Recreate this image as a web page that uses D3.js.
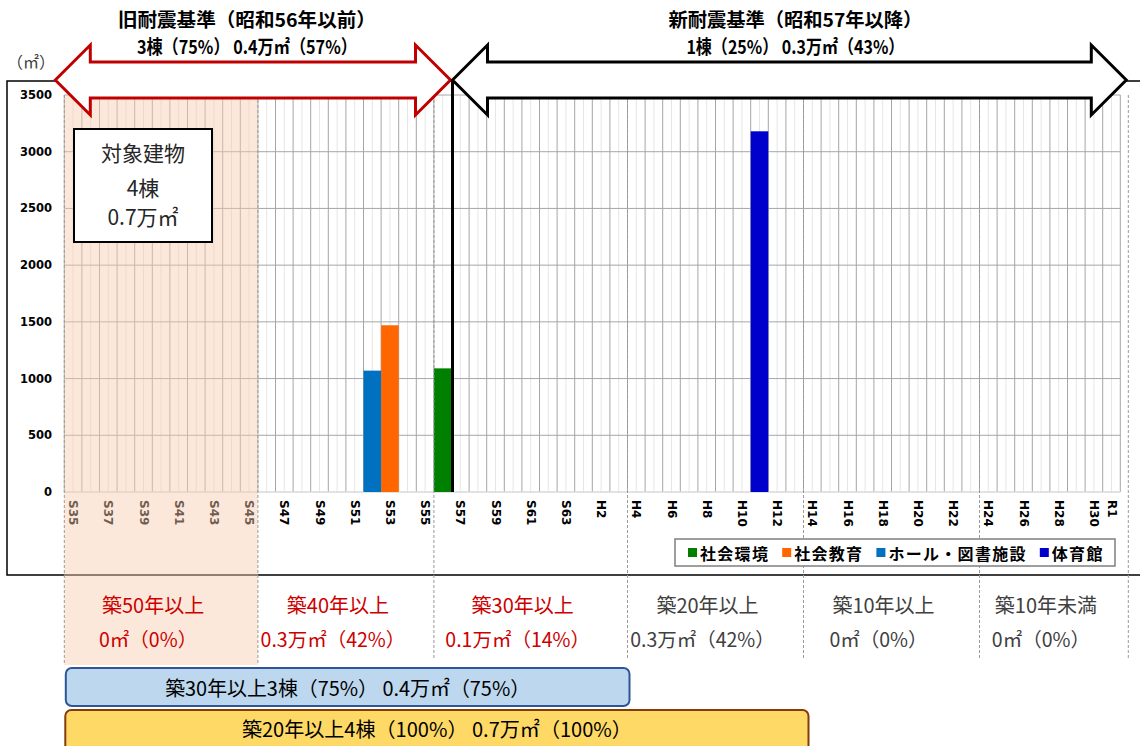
<!DOCTYPE html>
<html>
<head>
<meta charset="utf-8">
<script src="https://cdn.jsdelivr.net/npm/d3@7"></script>
<style>
  body { margin: 0; background: #fff; }
  svg { display: block; font-family: "Noto Sans CJK JP", "Noto Sans", sans-serif; }
</style>
</head>
<body>
<div id="chart"></div>
<script>
// construction year categories (Showa / Heisei / Reiwa)
const categories = [
  'S35', 'S36', 'S37', 'S38', 'S39', 'S40', 'S41', 'S42', 'S43', 'S44', 'S45',
  'S46', 'S47', 'S48', 'S49', 'S50', 'S51', 'S52', 'S53', 'S54', 'S55', 'S56',
  'S57', 'S58', 'S59', 'S60', 'S61', 'S62', 'S63',
  'H1', 'H2', 'H3', 'H4', 'H5', 'H6', 'H7', 'H8', 'H9', 'H10', 'H11', 'H12',
  'H13', 'H14', 'H15', 'H16', 'H17', 'H18', 'H19', 'H20', 'H21', 'H22',
  'H23', 'H24', 'H25', 'H26', 'H27', 'H28', 'H29', 'H30', 'R1'
];
const tickLabels = [
  'S35', 'S37', 'S39', 'S41', 'S43', 'S45', 'S47', 'S49', 'S51', 'S53', 'S55',
  'S57', 'S59', 'S61', 'S63', 'H2', 'H4', 'H6', 'H8', 'H10', 'H12', 'H14',
  'H16', 'H18', 'H20', 'H22', 'H24', 'H26', 'H28', 'H30', 'R1'
];
const yTicks = [0, 500, 1000, 1500, 2000, 2500, 3000, 3500];

const seriesNames = ['社会環境', '社会教育', 'ホール・図書施設', '体育館'];
const seriesColors = ['#008000', '#ff6600', '#0070c0', '#0000cc'];
// one building per series: year built and floor area (m2)
const seriesCats = ['S56', 'S53', 'S52', 'H11'];
const seriesValues = [1090, 1470, 1070, 3180];

const ageStart = ['S35', 'S46', 'S56', 'H4', 'H14', 'H24'];
const ageTitles = ['築50年以上', '築40年以上', '築30年以上', '築20年以上', '築10年以上', '築10年未満'];
const ageAreas = ['0㎡（0%）', '0.3万㎡（42%）', '0.1万㎡（14%）', '0.3万㎡（42%）', '0㎡（0%）', '0㎡（0%）'];
const ageHighlight = [true, true, true, false, false, false];

const oldTitle = ['旧耐震基準（昭和56年以前）', '3棟（75%） 0.4万㎡（57%）'];
const newTitle = ['新耐震基準（昭和57年以降）', '1棟（25%） 0.3万㎡（43%）'];
const totalBox = ['対象建物', '4棟', '0.7万㎡'];
const summary30 = '築30年以上3棟（75%） 0.4万㎡（75%）';
const summary20 = '築20年以上4棟（100%） 0.7万㎡（100%）';

const width = 1140;
const height = 746;

const svg = d3.select('#chart').append('svg')
  .attr('width', width)
  .attr('height', height);

const x = d3.scaleBand().domain(categories).range([64.3, 1120.3]).padding(0);
const y = d3.scaleLinear().domain([0, 3500]).range([492, 95]);
const x0 = x.range()[0];
const x1 = x.range()[1];
const bw = x.bandwidth();

// outer frame
svg.append('rect')
  .attr('x', 7).attr('y', 81)
  .attr('width', 1150).attr('height', 494)
  .attr('fill', 'none').attr('stroke', '#000').attr('stroke-width', 1.5);

svg.append('text')
  .attr('x', 31).attr('y', 61)
  .attr('text-anchor', 'middle').attr('dominant-baseline', 'central')
  .attr('font-size', 16).attr('fill', '#404040')
  .text('（㎡）');

// grid
const grid = svg.append('g');
grid.selectAll('line.mid')
  .data(categories)
  .enter().append('line')
  .attr('x1', d => x(d) + bw / 2).attr('x2', d => x(d) + bw / 2)
  .attr('y1', y(3500)).attr('y2', y(0))
  .attr('stroke', '#e6e6e6').attr('stroke-width', 1);
grid.selectAll('line.cat')
  .data(categories.concat(['end']))
  .enter().append('line')
  .attr('x1', (d, i) => x0 + i * bw).attr('x2', (d, i) => x0 + i * bw)
  .attr('y1', y(3500)).attr('y2', y(0))
  .attr('stroke', '#a6a6a6').attr('stroke-width', 1);
grid.selectAll('line.h')
  .data(yTicks.slice(1))
  .enter().append('line')
  .attr('x1', x0).attr('x2', x1)
  .attr('y1', d => y(d)).attr('y2', d => y(d))
  .attr('stroke', '#a6a6a6').attr('stroke-width', 1);
grid.append('line')
  .attr('x1', x0).attr('x2', x1)
  .attr('y1', y(0)).attr('y2', y(0))
  .attr('stroke', '#d9d9d9').attr('stroke-width', 1.5);

// y labels
svg.append('g').selectAll('text')
  .data(yTicks)
  .enter().append('text')
  .attr('x', 52).attr('y', d => y(d))
  .attr('text-anchor', 'end').attr('dominant-baseline', 'central')
  .attr('font-family', '"DejaVu Sans", sans-serif')
  .attr('font-weight', 'bold').attr('font-size', 11.5).attr('fill', '#000')
  .text(d => d);

// x labels
svg.append('g').selectAll('text')
  .data(tickLabels)
  .enter().append('text')
  .attr('transform', d => `translate(${x(d) + bw / 2 - 4},500) rotate(90)`)
  .attr('font-family', '"DejaVu Sans", sans-serif')
  .attr('font-weight', 'bold').attr('font-size', 12).attr('fill', '#000')
  .text(d => d);

// bars
svg.append('g').selectAll('rect')
  .data(seriesValues)
  .enter().append('rect')
  .attr('x', (d, i) => x(seriesCats[i]))
  .attr('width', bw)
  .attr('y', d => y(d))
  .attr('height', d => y(0) - y(d))
  .attr('fill', (d, i) => seriesColors[i]);

// boundary between old and new seismic standard
const split = x('S57');
svg.append('line')
  .attr('x1', split + 1).attr('x2', split + 1)
  .attr('y1', 80).attr('y2', y(0))
  .attr('stroke', '#000').attr('stroke-width', 3);

// building age bands
const bandEdges = ageStart.map(d => x(d)).concat([x1 + 8]);
svg.append('rect')
  .attr('x', bandEdges[0]).attr('y', y(3500))
  .attr('width', bandEdges[1] - bandEdges[0]).attr('height', 665 - y(3500))
  .attr('fill', '#f8cbad').attr('opacity', 0.45);
svg.append('g').selectAll('line')
  .data(bandEdges)
  .enter().append('line')
  .attr('x1', d => d).attr('x2', d => d)
  .attr('y1', y(3500)).attr('y2', (d, i) => i < 2 ? 665 : 660)
  .attr('stroke', '#9a9a9a').attr('stroke-width', 1)
  .attr('stroke-dasharray', '3,2');

// legend
const legend = svg.append('g');
legend.append('rect')
  .attr('x', 675).attr('y', 539).attr('width', 440).attr('height', 27)
  .attr('fill', '#fff').attr('stroke', '#7f7f7f').attr('stroke-width', 1.5);
let lx = 688;
seriesNames.forEach((name, i) => {
  legend.append('rect')
    .attr('x', lx).attr('y', 548).attr('width', 9).attr('height', 9)
    .attr('fill', seriesColors[i]);
  const t = legend.append('text')
    .attr('x', lx + 12).attr('y', 553)
    .attr('dominant-baseline', 'central')
    .attr('font-weight', 'bold').attr('font-size', 16).attr('fill', '#000')
    .attr('letter-spacing', 1.3)
    .text(name);
  lx += 12 + t.node().getComputedTextLength() + 13;
});

// arrows
function arrowPath(xl, xr, cy) {
  const head = 35, hh = 35, bh = 18;
  return `M${xl},${cy} L${xl + head},${cy - hh} L${xl + head},${cy - bh} ` +
    `L${xr - head},${cy - bh} L${xr - head},${cy - hh} L${xr},${cy} ` +
    `L${xr - head},${cy + hh} L${xr - head},${cy + bh} L${xl + head},${cy + bh} ` +
    `L${xl + head},${cy + hh} Z`;
}
svg.append('path')
  .attr('d', arrowPath(x0 - 9, split - 1, 80))
  .attr('fill', '#fff').attr('stroke', '#c00000').attr('stroke-width', 3);
svg.append('path')
  .attr('d', arrowPath(split + 1, x1 + 6, 80))
  .attr('fill', '#fff').attr('stroke', '#000').attr('stroke-width', 3);

function header(lines, cx, lens) {
  lines.forEach((s, i) => {
    svg.append('text')
      .attr('x', cx).attr('y', 18 + i * 27)
      .attr('text-anchor', 'middle').attr('dominant-baseline', 'central')
      .attr('font-weight', 'bold').attr('font-size', 19).attr('fill', '#000')
      .attr('textLength', lens[i]).attr('lengthAdjust', 'spacingAndGlyphs')
      .text(s);
  });
}
header(oldTitle, (x0 - 9 + split - 1) / 2 - 6, [258, 220]);
header(newTitle, (split + 1 + x1 + 6) / 2 + 6, [254, 218]);

// total box
svg.append('rect')
  .attr('x', 74).attr('y', 129).attr('width', 138).attr('height', 113)
  .attr('fill', '#fff').attr('stroke', '#000').attr('stroke-width', 2);
svg.append('g').selectAll('text')
  .data(totalBox)
  .enter().append('text')
  .attr('x', 143).attr('y', (d, i) => [152, 187, 216][i])
  .attr('text-anchor', 'middle').attr('dominant-baseline', 'central')
  .attr('font-size', 21).attr('fill', '#262626')
  .text(d => d);

// age band captions
ageTitles.forEach((t, i) => {
  const cx = (bandEdges[i] + bandEdges[i + 1]) / 2 - 8;
  const col = ageHighlight[i] ? '#cc0000' : '#404040';
  svg.append('text')
    .attr('x', cx).attr('y', 604)
    .attr('text-anchor', 'middle').attr('dominant-baseline', 'central')
    .attr('font-size', 20).attr('fill', col)
    .text(t);
  svg.append('text')
    .attr('x', cx - 5).attr('y', 638)
    .attr('text-anchor', 'middle').attr('dominant-baseline', 'central')
    .attr('font-size', 19.5).attr('fill', col)
    .text(ageAreas[i]);
});

// summary boxes
const b30 = [x0 + 1.5, x('H4') + 2];
svg.append('rect')
  .attr('x', b30[0]).attr('y', 668).attr('width', b30[1] - b30[0]).attr('height', 38)
  .attr('rx', 6).attr('fill', '#bdd7ee').attr('stroke', '#2f5597').attr('stroke-width', 2);
svg.append('text')
  .attr('x', (b30[0] + b30[1]) / 2).attr('y', 687)
  .attr('text-anchor', 'middle').attr('dominant-baseline', 'central')
  .attr('font-size', 20).attr('fill', '#000')
  .attr('textLength', 365).attr('lengthAdjust', 'spacingAndGlyphs')
  .text(summary30);

const b20 = [x0 + 1, x('H14') + 5];
svg.append('rect')
  .attr('x', b20[0]).attr('y', 710).attr('width', b20[1] - b20[0]).attr('height', 44)
  .attr('rx', 6).attr('fill', '#ffd966').attr('stroke', '#843c0c').attr('stroke-width', 2);
svg.append('text')
  .attr('x', (b20[0] + b20[1]) / 2).attr('y', 728)
  .attr('text-anchor', 'middle').attr('dominant-baseline', 'central')
  .attr('font-size', 20).attr('fill', '#000')
  .attr('textLength', 390).attr('lengthAdjust', 'spacingAndGlyphs')
  .text(summary20);
</script>
</body>
</html>
